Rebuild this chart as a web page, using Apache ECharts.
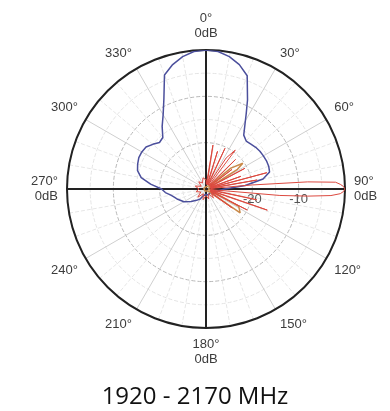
<!DOCTYPE html>
<html>
<head>
<meta charset="utf-8">
<script src="https://cdn.jsdelivr.net/npm/echarts@6/dist/echarts.min.js"></script>
<style>html,body{margin:0;padding:0;background:#fff;}#c{width:390px;height:411px;}</style>
</head>
<body>
<div id="c"></div>
<script>
// Angles (degrees) and values (dB)
const blueAngles = [0,5,10,15,20,25,28,30,35,40,45,50,55,60,65,70,75,80,85,90,100,110,120,130,140,150,160,170,180,190,200,205,210,215,220,230,240,250,255,260,265,270,275,280,285,290,295,300,305,310,315,320,325,330,335,340,345,350,355,360];
const blueDb =     [0,-0.2,-1,-2.2,-4,-8.8,-11.5,-13,-15.8,-16.5,-16.3,-16,-15.8,-15.7,-15.6,-15.6,-15.8,-17.5,-21.5,-26,-27.5,-28.5,-28,-28.8,-28.5,-29,-28.6,-29,-28.8,-29,-28.5,-28,-27.5,-27.5,-26.8,-25.8,-24.5,-23.5,-23,-22.3,-21.2,-20.4,-18,-15.8,-14.7,-14.3,-14,-14,-14.2,-15,-15.8,-15.5,-13.5,-11.5,-8.5,-3.8,-2.2,-1,-0.2,0];

const redAngles = [0,4,9,13,17,21,25,29,33,37,40,45,49,53,57,62,66,70,73,75,77,80,83,85,86,87,88,89,90,91,92,93,94,95,97,102,105,109,112,117,121,126,130,140,150,165,180,195,210,225,240,255,270,285,300,315,330,345,360];
const redDb =     [-28,-29,-20.4,-29,-21.5,-29,-20.3,-29,-22,-19.5,-29,-21,-29,-23,-29,-20.5,-29,-22,-29,-16.4,-29,-18.8,-29,-20,-8,-2,-1,-0.3,0,-0.3,-1,-3,-8,-14,-29,-18.8,-29,-16,-29,-20,-29,-23,-28.5,-27.5,-28.8,-27.8,-28.6,-27.6,-28.8,-27.5,-28.7,-27.8,-28.5,-27.6,-28.8,-27.8,-28.5,-27.5,-28];

const orangeAngles = [0,30,45,50,55,58,62,70,90,105,112,118,125,130,140,200,280,360];
const orangeDb =     [-29.5,-29.5,-29,-23,-20.3,-22,-29,-29.5,-29.5,-29.5,-29,-22,-21,-29,-29.5,-29.5,-29.5,-29.5];

const radiusTicks = { min: -30, max: 0, step: 10 };
const radiusLabels = [-20, -10];
const angleStep = 30;
const cardinalAngles = [0, 90, 180, 270];
const caption = '1920 - 2170 MHz';

function pairs(angles, vals) { return angles.map((a, i) => [vals[i], a]); }

const chart = echarts.init(document.getElementById('c'), null, { renderer: 'canvas' });
const center = [206, 189];
const radius = 139;

chart.setOption({
  animation: false,
  title: {
    text: caption, left: 'center', top: 380,
    textStyle: { fontFamily: 'Open Sans', fontSize: 24, fontWeight: 'normal', color: '#111' }
  },
  polar: [
    { center: center, radius: radius },
    { center: center, radius: radius }
  ],
  angleAxis: [
    {
      polarIndex: 0, type: 'value', min: 0, max: 360, interval: angleStep,
      startAngle: 90, clockwise: true,
      axisLine: { show: true, lineStyle: { color: '#222', width: 2 } },
      axisTick: { show: false },
      minorTick: { show: false, splitNumber: 3 },
      axisLabel: {
        margin: 9, color: '#3c3c3c', fontFamily: 'Liberation Sans', fontSize: 13, lineHeight: 15,
        formatter: v => v === 360 ? '' : (cardinalAngles.includes(v) ? v + '°\n0dB' : v + '°')
      },
      splitLine: { show: true, lineStyle: { color: '#cfcfcf', width: 1 } },
      minorSplitLine: { show: true, lineStyle: { color: '#e6e6e6', width: 1, type: 'dashed' } }
    },
    {
      polarIndex: 1, type: 'value', min: 0, max: 360, interval: 90, startAngle: 0, clockwise: true,
      axisLine: { show: false }, axisTick: { show: false }, axisLabel: { show: false },
      splitLine: { show: true, lineStyle: { color: '#222', width: 2 } }
    }
  ],
  radiusAxis: [
    {
      polarIndex: 0, type: 'value', min: radiusTicks.min, max: radiusTicks.max, interval: radiusTicks.step,
      axisLine: { show: false }, axisTick: { show: false }, axisLabel: { show: false },
      minorTick: { show: false, splitNumber: 2 },
      splitLine: { show: true, lineStyle: { color: '#b8b8b8', width: 1, type: 'dashed' } },
      minorSplitLine: { show: true, lineStyle: { color: '#e4e4e4', width: 1, type: 'dashed' } }
    },
    {
      polarIndex: 1, type: 'value', min: radiusTicks.min, max: radiusTicks.max, interval: radiusTicks.step,
      axisLine: { show: false }, axisTick: { show: false }, splitLine: { show: false },
      axisLabel: {
        show: true, margin: -4, color: '#555', fontFamily: 'Liberation Sans', fontSize: 13,
        verticalAlign: 'top',
        formatter: v => radiusLabels.includes(v) ? String(v) : ''
      }
    }
  ],
  series: [
    { type: 'line', coordinateSystem: 'polar', polarIndex: 0, symbol: 'none', data: pairs(blueAngles, blueDb),
      lineStyle: { color: '#4b4f9c', width: 1.5 }, z: 3 },
    { type: 'line', coordinateSystem: 'polar', polarIndex: 0, symbol: 'none', data: pairs(orangeAngles, orangeDb),
      lineStyle: { color: '#c98a4a', width: 1.5 }, z: 4 },
    { type: 'line', coordinateSystem: 'polar', polarIndex: 0, symbol: 'none', data: pairs(redAngles, redDb),
      lineStyle: { color: '#dc4a40', width: 1 }, z: 5 }
  ]
});
</script>
</body>
</html>
